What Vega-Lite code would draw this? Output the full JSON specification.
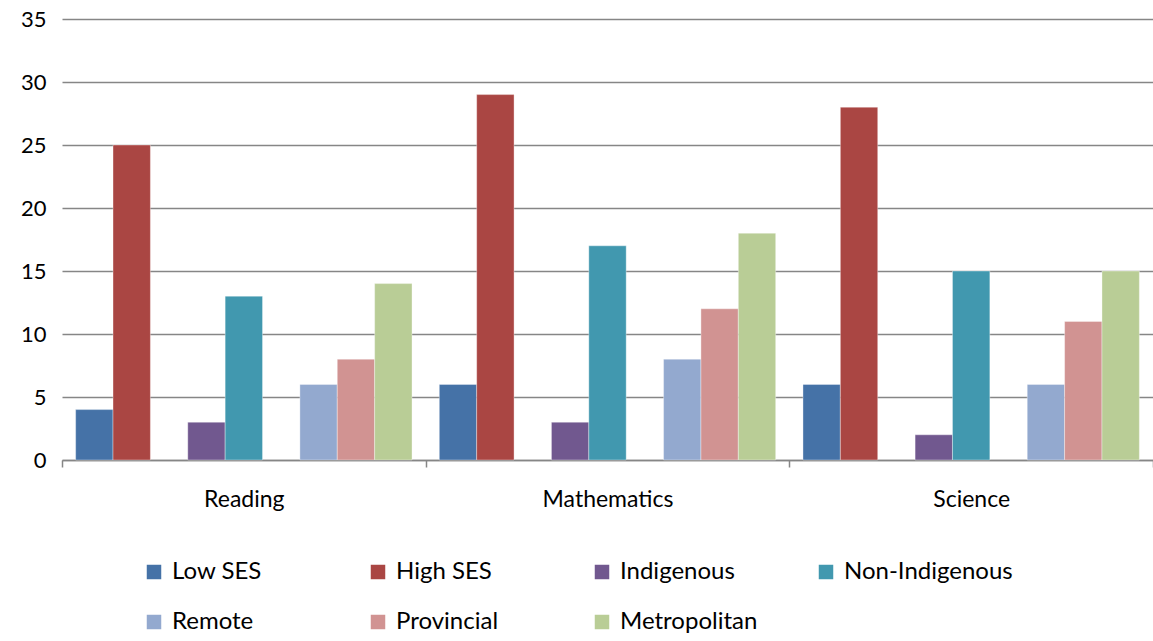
{
  "$schema": "https://vega.github.io/schema/vega-lite/v6.json",
  "width": 1091,
  "height": 441,
  "autosize": "none",
  "padding": {"left": 62, "top": 19, "right": 0, "bottom": 181},
  "background": "white",
  "config": {
    "font": "Lato",
    "view": {"stroke": null}
  },
  "data": {
    "values": [
      {"subject": "Reading", "series": "Low SES", "value": 4},
      {"subject": "Reading", "series": "High SES", "value": 25},
      {"subject": "Reading", "series": "Indigenous", "value": 3},
      {"subject": "Reading", "series": "Non-Indigenous", "value": 13},
      {"subject": "Reading", "series": "Remote", "value": 6},
      {"subject": "Reading", "series": "Provincial", "value": 8},
      {"subject": "Reading", "series": "Metropolitan", "value": 14},
      {"subject": "Mathematics", "series": "Low SES", "value": 6},
      {"subject": "Mathematics", "series": "High SES", "value": 29},
      {"subject": "Mathematics", "series": "Indigenous", "value": 3},
      {"subject": "Mathematics", "series": "Non-Indigenous", "value": 17},
      {"subject": "Mathematics", "series": "Remote", "value": 8},
      {"subject": "Mathematics", "series": "Provincial", "value": 12},
      {"subject": "Mathematics", "series": "Metropolitan", "value": 18},
      {"subject": "Science", "series": "Low SES", "value": 6},
      {"subject": "Science", "series": "High SES", "value": 28},
      {"subject": "Science", "series": "Indigenous", "value": 2},
      {"subject": "Science", "series": "Non-Indigenous", "value": 15},
      {"subject": "Science", "series": "Remote", "value": 6},
      {"subject": "Science", "series": "Provincial", "value": 11},
      {"subject": "Science", "series": "Metropolitan", "value": 15}
    ]
  },
  "mark": {"type": "bar", "stroke": "white", "strokeWidth": 0.6, "strokeOpacity": 0.6},
  "encoding": {
    "x": {
      "field": "subject",
      "type": "nominal",
      "sort": ["Reading", "Mathematics", "Science"],
      "scale": {"paddingInner": 0, "paddingOuter": 0},
      "axis": {
        "title": null,
        "labelAngle": 0,
        "labelFontSize": 23,
        "labelColor": "#000000",
        "labelPadding": 21,
        "domainColor": "#868686",
        "domainWidth": 1.5,
        "tickColor": "#868686",
        "tickWidth": 1.5,
        "tickSize": 7,
        "tickBand": "extent",
        "grid": false
      }
    },
    "xOffset": {
      "field": "series",
      "type": "nominal",
      "scale": {
        "domain": ["Low SES", "High SES", "gap1", "Indigenous", "Non-Indigenous", "gap2", "Remote", "Provincial", "Metropolitan"],
        "paddingInner": 0,
        "paddingOuter": 0.365
      }
    },
    "y": {
      "field": "value",
      "type": "quantitative",
      "scale": {"domain": [0, 35]},
      "axis": {
        "title": null,
        "values": [0, 5, 10, 15, 20, 25, 30, 35],
        "labelFontSize": 22,
        "labelColor": "#000000",
        "labelPadding": 16,
        "domain": false,
        "ticks": false,
        "gridColor": "#868686",
        "gridWidth": 1.5
      }
    },
    "color": {
      "field": "series",
      "type": "nominal",
      "scale": {
        "domain": ["Low SES", "High SES", "Indigenous", "Non-Indigenous", "Remote", "Provincial", "Metropolitan"],
        "range": ["#4572A7", "#AA4643", "#71588F", "#4198AF", "#93A9CF", "#D19392", "#B9CD96"]
      },
      "legend": {
        "title": null,
        "orient": "none",
        "legendX": 80,
        "legendY": 541,
        "direction": "horizontal",
        "columns": 4,
        "gridAlign": "all",
        "symbolType": "square",
        "symbolSize": 210,
        "symbolStrokeWidth": 0,
        "labelFontSize": 24,
        "labelColor": "#000000",
        "labelOffset": 6,
        "labelLimit": 300,
        "columnPadding": 25,
        "rowPadding": 26,
        "padding": 0
      }
    }
  }
}
